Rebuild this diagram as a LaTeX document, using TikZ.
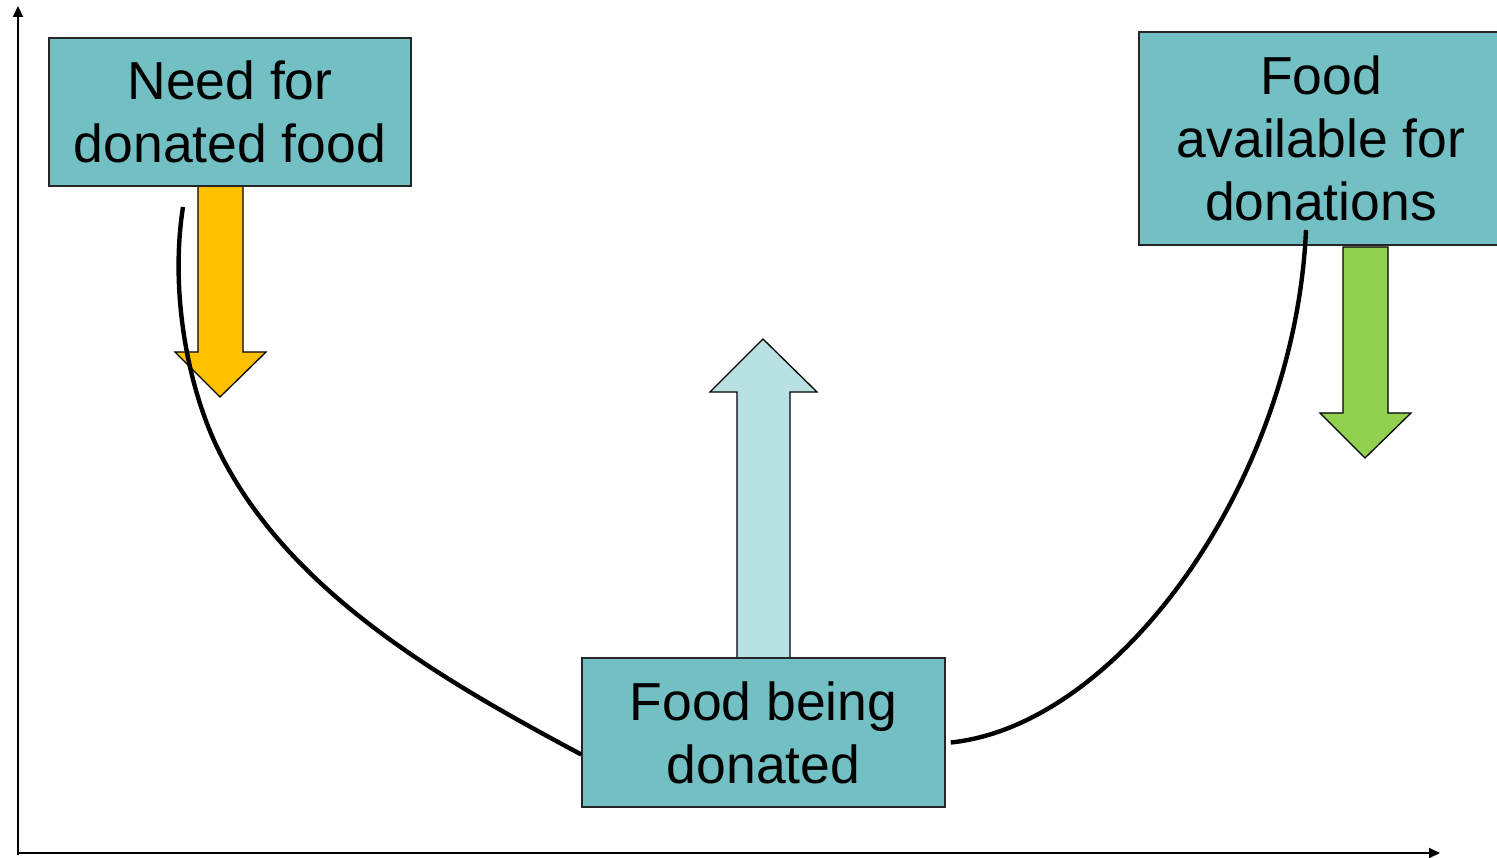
\documentclass[tikz,border=0pt]{standalone}
\usepackage{fontspec}
\setmainfont{Liberation Sans}
\usetikzlibrary{arrows.meta}
\definecolor{boxteal}{RGB}{114,191,196}
\definecolor{arrlight}{RGB}{185,224,227}
\definecolor{arrorange}{RGB}{255,192,0}
\definecolor{arrgreen}{RGB}{146,208,80}
\tikzset{
  statebox/.style={draw=black!85, line width=1.5pt, fill=boxteal, inner sep=0pt,
    align=center, font=\fontsize{53.5}{63}\selectfont},
  fatarrow/.style={draw=black, line width=1.3pt, line join=miter},
  curveline/.style={line width=4.4pt, black},
  axisline/.style={line width=2pt, -{Triangle[length=11pt,width=10pt]}}
}
\begin{document}
\begin{tikzpicture}[x=1pt,y=-1pt]
\useasboundingbox (0,0) rectangle (1497,858);
% axes
\coordinate (o) at (18,853);
\coordinate (ytop) at (18,6);
\coordinate (xend) at (1440,853);
\draw[axisline] ([yshift=-2pt]o) -- (ytop);
\draw[axisline] (o) -- (xend);
% block arrows
\draw[fatarrow, fill=arrorange] (198,186) -- (243,186) -- (243,352) -- (266,352) -- (220,397) -- (175,352) -- (198,352) -- cycle;
\draw[fatarrow, fill=arrgreen] (1343,247) -- (1388,247) -- (1388,413) -- (1411,413) -- (1365,458) -- (1320,413) -- (1343,413) -- cycle;
\draw[fatarrow, fill=arrlight] (737,658) -- (737,392) -- (710,392) -- (763,339) -- (817,392) -- (790,392) -- (790,658) -- cycle;
% boxes
\node[statebox, minimum width=362pt, minimum height=148pt] (b1) at (230,112) {Need for\\donated food};
\node[statebox, minimum width=364pt, minimum height=213pt] (b2) at (1321,138.5) {Food\\available for\\donations};
\node[statebox, minimum width=363pt, minimum height=149pt] (b3) at (763.5,732.5) {Food being\\donated};
% curves
\coordinate (s1) at (183,207);
\coordinate (e1) at ([yshift=-22pt]b3.west);
\coordinate (s2) at (1306,230);
\coordinate (e2) at ([xshift=5pt,yshift=-10pt]b3.east);
\draw[curveline] (s1) .. controls (170,290) and (187,384) .. (217,447)
  .. controls (286,591) and (442,680) .. (e1);
\draw[curveline] (s2) .. controls (1295,480) and (1120,725) .. (e2);
\end{tikzpicture}
\end{document}
